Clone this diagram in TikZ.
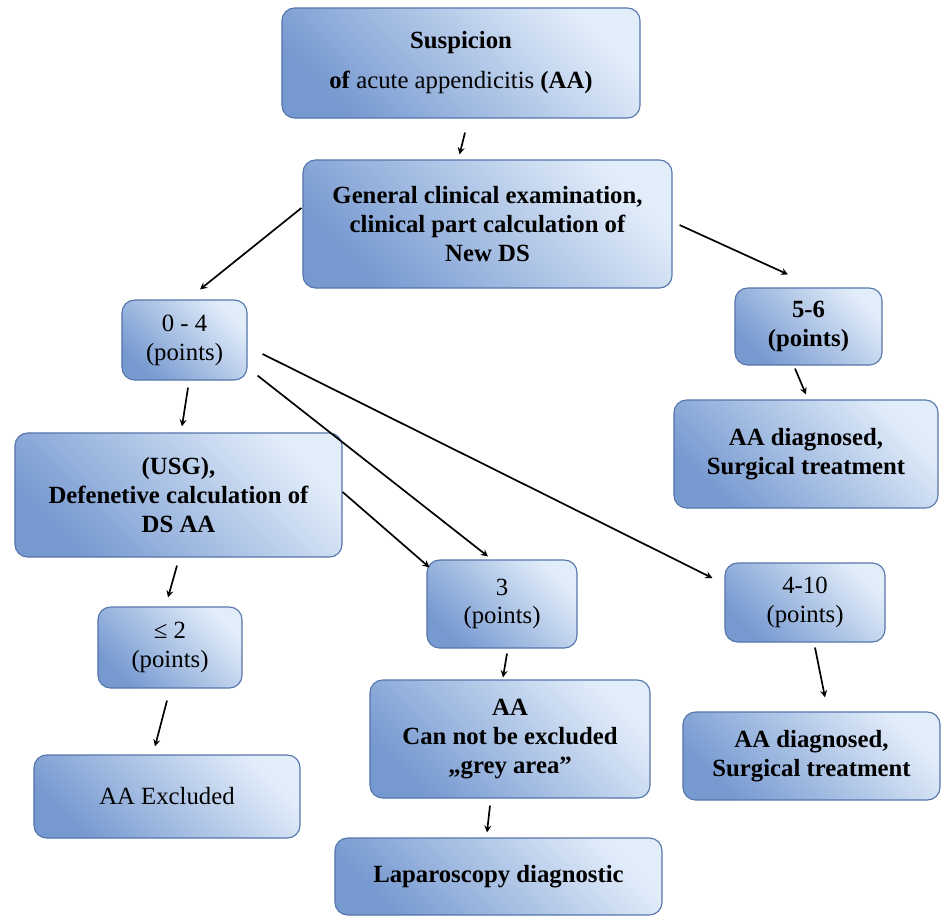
\documentclass[tikz,border=0pt]{standalone}
\usepackage{fontspec}
\setmainfont{Liberation Serif}
\usetikzlibrary{calc}
\definecolor{boxdark}{RGB}{118,153,208}
\definecolor{boxlight}{RGB}{226,237,250}
\definecolor{boxline}{RGB}{86,118,170}
\begin{document}
\begin{tikzpicture}[x=0.025cm,y=-0.025cm,
  box/.style={draw=boxline, line width=0.8pt, rounded corners=9pt,
    top color=boxlight, bottom color=boxdark, shading angle=-45,
    align=center, inner sep=2pt,
    font=\fontsize{17.6}{20.5}\selectfont\bfseries},
  reg/.style={font=\fontsize{17.6}{20.5}\selectfont},
  arr/.style={-stealth, line width=1.2pt}]
\useasboundingbox (0,0) rectangle (952,917);
\node[box,minimum width=8.95cm,minimum height=2.75cm] (susp) at (461,63) {Suspicion\\[8pt] of \textmd{acute appendicitis} (AA)};
\node[box,minimum width=9.225cm,minimum height=3.2cm] (exam) at (487.5,224) {General clinical examination,\\ clinical part calculation of\\ New DS};
\node[box,reg,minimum width=3.125cm,minimum height=2cm] (low) at (184.5,340) {0 - 4\\ (points)};
\node[box,minimum width=3.675cm,minimum height=1.925cm] (high) at (808.5,326.5) {5-6\\ (points)};
\node[box,minimum width=6.6cm,minimum height=2.7cm] (diag) at (806,454) {AA diagnosed,\\ Surgical treatment};
\node[box,minimum width=8.175cm,minimum height=3.1cm] (usg) at (178.5,495) {(USG),\\ Defenetive calculation of\\ DS AA};
\node[box,reg,minimum width=3.75cm,minimum height=2.2cm] (grey) at (502,604) {3\\ (points)};
\node[box,reg,minimum width=4cm,minimum height=1.975cm] (pos) at (805,602.5) {4-10\\ (points)};
\node[box,reg,minimum width=3.6cm,minimum height=2.025cm] (neg) at (170,647.5) {≤ 2\\ (points)};
\node[box,minimum width=7cm,minimum height=2.95cm] (unsure) at (510,739) {AA\\ Can not be excluded\\ „grey area”};
\node[box,minimum width=6.425cm,minimum height=2.2cm] (diagb) at (811.5,756) {AA diagnosed,\\ Surgical treatment};
\node[box,reg,minimum width=6.65cm,minimum height=2.075cm] (excl) at (167,796.5) {AA Excluded};
\node[box,minimum width=8.175cm,minimum height=1.925cm] (lapar) at (498.5,876.5) {Laparoscopy diagnostic};
\draw[arr] ($(susp.south)+(4,14)$) -- ($(exam.north)+(-28,-5)$);
\draw[arr] ($(exam.west)+(-1,-16)$) -- ($(low.north)+(15.5,-10)$);
\draw[arr] ($(exam.east)+(7,1)$) -- ($(high.north)+(-20.5,-13)$);
\draw[arr] ($(low.south)+(3.5,7)$) -- ($(usg.north)+(3.5,-6)$);
\draw[arr] ($(low.south east)+(10,-5)$) -- ($(grey.north)+(-14,-3)$);
\draw[arr] ($(low.east)+(15,14)$) -- ($(pos.west)+(-12,-24.5)$);
\draw[arr] ($(usg.east)+(0,-3)$) -- ($(grey.north west)+(3,8)$);
\draw[arr] ($(high.south)+(-13.5,3)$) -- ($(diag.north)+(0,-5)$);
\draw[arr] ($(usg.south)+(-1.5,8)$) -- ($(neg.north)+(-2,-9)$);
\draw[arr] ($(grey.south)+(5,5)$) -- ($(unsure.north)+(-7,-2)$);
\draw[arr] ($(neg.south)+(-3,12)$) -- ($(excl.north)+(-12,-8)$);
\draw[arr] ($(pos.south)+(10,5)$) -- ($(diagb.north)+(13.5,-14)$);
\draw[arr] ($(unsure.south)+(-20,7)$) -- ($(lapar.north)+(-11.5,-5)$);
\end{tikzpicture}
\end{document}
